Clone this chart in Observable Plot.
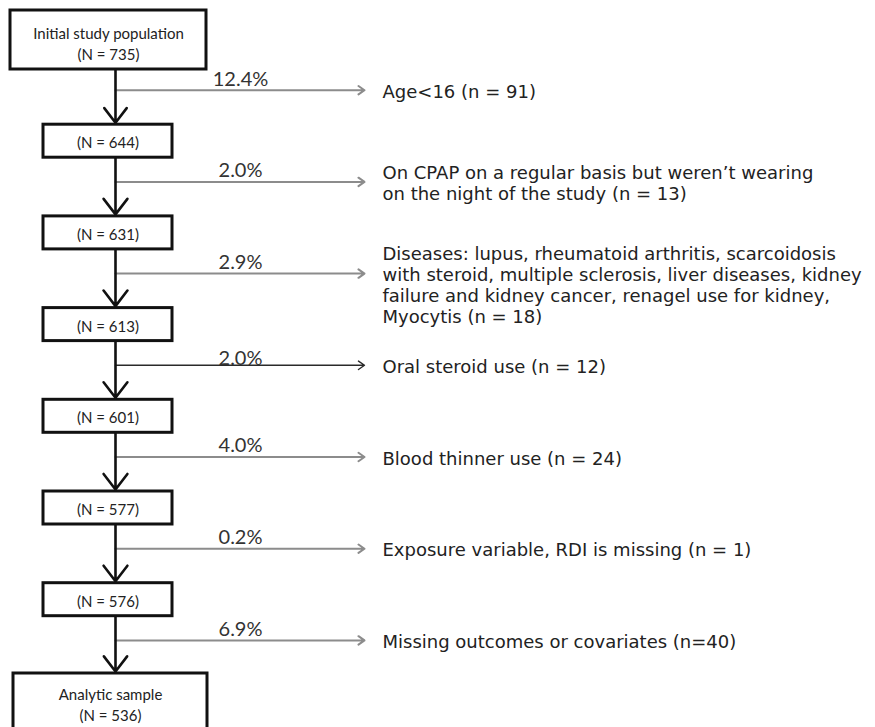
<!DOCTYPE html>
<html>
<head>
<meta charset="utf-8">
<script src="https://cdn.jsdelivr.net/npm/d3@7"></script>
<script src="https://cdn.jsdelivr.net/npm/@observablehq/plot@0.6"></script>
<style>
  html, body { margin: 0; padding: 0; background: #fff; }
  svg { display: block; }
</style>
</head>
<body>
<div id="chart"></div>
<script>
const stageTitles = ["Initial study population", "", "", "", "", "", "", "Analytic sample"];
const stageCounts = [735, 644, 631, 613, 601, 577, 576, 536];
const exclusionPercents = ["12.4%", "2.0%", "2.9%", "2.0%", "4.0%", "0.2%", "6.9%"];
const exclusionReasons = [
  "Age<16 (n = 91)",
  "On CPAP on a regular basis but weren\u2019t wearing\non the night of the study (n = 13)",
  "Diseases: lupus, rheumatoid arthritis, scarcoidosis\nwith steroid, multiple sclerosis, liver diseases, kidney\nfailure and kidney cancer, renagel use for kidney,\nMyocytis (n = 18)",
  "Oral steroid use (n = 12)",
  "Blood thinner use (n = 24)",
  "Exposure variable, RDI is missing (n = 1)",
  "Missing outcomes or covariates (n=40)"
];

// ---- layout (computed in code) ----
const W = 875, H = 727;
const step = 91.7;
const centerY = i => 49 + step * i;
const stages = stageCounts.map((n, i) => {
  const tall = stageTitles[i] !== "";
  let y1, y2, x1, x2;
  if (i === 0) { x1 = 10; x2 = 206; y1 = 10; y2 = 69; }
  else if (tall) { x1 = 13; x2 = 207; y1 = 673; y2 = 733; }
  else { x1 = 43; x2 = 172; y1 = centerY(i) - 16.5; y2 = centerY(i) + 16.5; }
  const label = (tall ? stageTitles[i] + "\n" : "") + `(N = ${n})`;
  const cy = tall ? (i === 0 ? 42 : 703) : (y1 + y2) / 2;
  return {i, n, x1, x2, y1, y2, label, cx: (x1 + x2) / 2, cy};
});
const spineX = 115;
const flows = exclusionPercents.map((p, i) => ({
  i, pct: p, reason: exclusionReasons[i],
  y: step * (i + 1) - 2,
  yFrom: stages[i].y2, yTo: stages[i + 1].y1
}));
const reasonSize = 18;
const lineH = 21;
const reasonY = d => {
  const n = d.reason.split("\n").length;
  const anchor = n === 2 ? 0.5 : Math.floor((n - 1) / 2);
  return d.y + lineH * ((n - 1) / 2 - anchor) + 1;
};

const font = "Lato, 'Open Sans', sans-serif";
const reasonFont = "'DejaVu Sans', Lato, sans-serif";

const chart = Plot.plot({
  width: W, height: H,
  margin: 0,
  x: {domain: [0, W], range: [0, W], axis: null},
  y: {domain: [0, H], range: [0, H], axis: null},
  style: {fontFamily: font, background: "#fff"},
  marks: [
    // exclusion branches
    Plot.arrow(flows, {
      x1: spineX, x2: 364, y1: "y", y2: "y",
      stroke: d => d.i === 3 ? "#2a2a2a" : "#8c8c8c",
      strokeWidth: d => d.i === 3 ? 1.4 : 2,
      headLength: 11, headAngle: 70
    }),
    // main spine arrows
    Plot.arrow(flows, {
      x1: spineX, x2: spineX, y1: "yFrom", y2: "yTo",
      stroke: "#111", strokeWidth: 2.6,
      headLength: 13, headAngle: 75, insetEnd: 2
    }),
    // boxes
    Plot.rect(stages, {
      x1: "x1", x2: "x2", y1: "y1", y2: "y2",
      fill: "#fff", stroke: "#111", strokeWidth: 3
    }),
    Plot.text(stages, {
      x: "cx", y: "cy", text: "label",
      fontSize: 15, fill: "#222", lineHeight: 1.45,
      fontFamily: font
    }),
    // percentages
    Plot.text(flows, {
      x: 240, y: d => d.y - (d.i === 3 ? 7 : 11), text: "pct",
      textAnchor: "middle", fontSize: 20, fill: "#333"
    }),
    // reasons
    Plot.text(flows, {
      x: 382, y: reasonY, text: "reason",
      textAnchor: "start", fontSize: reasonSize, fill: "#222",
      fontFamily: reasonFont,
      lineHeight: lineH / reasonSize
    })
  ]
});
document.getElementById("chart").appendChild(chart);
</script>
</body>
</html>
